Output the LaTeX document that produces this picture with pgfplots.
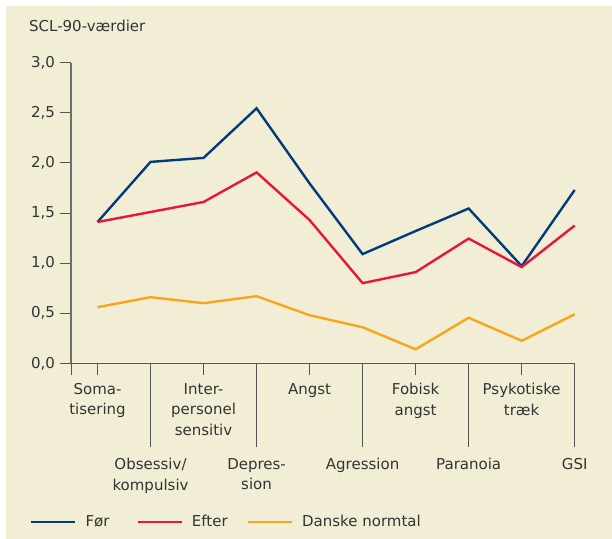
\documentclass[border=0pt]{standalone}
\usepackage{fontspec}
\setmainfont{DejaVu Sans}
\usepackage{pgfplots}
\pgfplotsset{compat=1.18}
\definecolor{bg}{RGB}{242,238,214}
\definecolor{foer}{RGB}{0,60,122}
\definecolor{efter}{RGB}{232,22,58}
\definecolor{norm}{RGB}{250,165,25}
\definecolor{txt}{RGB}{51,51,51}
\definecolor{axc}{RGB}{85,85,85}
\pgfplotstableread{
x foer efter norm
0 1.41 1.41 0.56
1 2.01 1.51 0.66
2 2.05 1.61 0.60
3 2.545 1.905 0.67
4 1.795 1.43 0.48
5 1.09 0.80 0.36
6 1.32 0.91 0.14
7 1.545 1.245 0.455
8 0.97 0.96 0.225
9 1.73 1.375 0.49
}\datatable
\begin{document}
\begin{tikzpicture}
\fill[white] (0,0) rectangle (612bp,-539bp);
\fill[bg] (6bp,-6bp) rectangle (612bp,-539bp);
\path[use as bounding box] (0,0) rectangle (612bp,-539bp);
\begin{axis}[
  at={(71bp,-363.3bp)}, anchor=south west,
  scale only axis, width=503.7bp, height=300.6bp,
  xmin=-0.5, xmax=9, ymin=0, ymax=3,
  axis x line*=bottom, axis y line*=left,
  axis line style={axc, line width=1bp, -},
  y axis line style={line width=1.4bp, color=axc!85},
  every tick/.style={axc, line width=1bp},
  tick align=outside,
  ytick={0,0.5,...,3},
  yticklabel style={/pgf/number format/use comma, /pgf/number format/fixed, /pgf/number format/fixed zerofill, /pgf/number format/precision=1, /pgf/number format/assume math mode=true, xshift=-1bp},
  ticklabel style={font=\fontsize{15bp}{20.5bp}\selectfont, text=txt},
  major tick length=11.5bp,
  xtick={-0.5,0,2,4,6,8},
  xticklabels={,Soma-\\tisering,Inter-\\personel\\sensitiv,Angst,Fobisk\\angst,Psykotiske\\træk},
  x tick label style={align=center, anchor=north, yshift=-5bp},
  extra x ticks={1,3,5,7,9},
  extra x tick labels={Obsessiv/\\kompulsiv,Depres-\\sion,Agression,Paranoia,GSI},
  extra x tick style={major tick length=83.4bp, tick label style={yshift=-3bp}},
  title={SCL-90-værdier},
  title style={at={(axis description cs:-0.0834,1.0832)}, anchor=base west, font=\fontsize{15bp}{20bp}\selectfont, text=txt, inner sep=0pt},
  legend columns=3,
  legend style={at={(axis description cs:-0.0814,-0.527)}, anchor=west, draw=none, fill=none, inner sep=0pt,
    font=\fontsize{15bp}{20bp}\selectfont, text=txt,
    nodes={inner sep=0pt},
    /tikz/column 1/.style={column sep=9bp},
    /tikz/column 2/.style={column sep=27bp},
    /tikz/column 3/.style={column sep=9bp},
    /tikz/column 4/.style={column sep=19bp},
    /tikz/column 5/.style={column sep=9bp}},
  legend image code/.code={\draw[#1] (0bp,0bp) -- (44bp,0bp);},
  every axis plot/.append style={line width=2.4bp},
  clip=false,
]
\addplot[foer] table[x=x,y=foer]{\datatable};
\addlegendentry{Før}
\addplot[efter] table[x=x,y=efter]{\datatable};
\addlegendentry{Efter}
\addplot[norm] table[x=x,y=norm]{\datatable};
\addlegendentry{Danske normtal}
\end{axis}
\end{tikzpicture}
\end{document}
